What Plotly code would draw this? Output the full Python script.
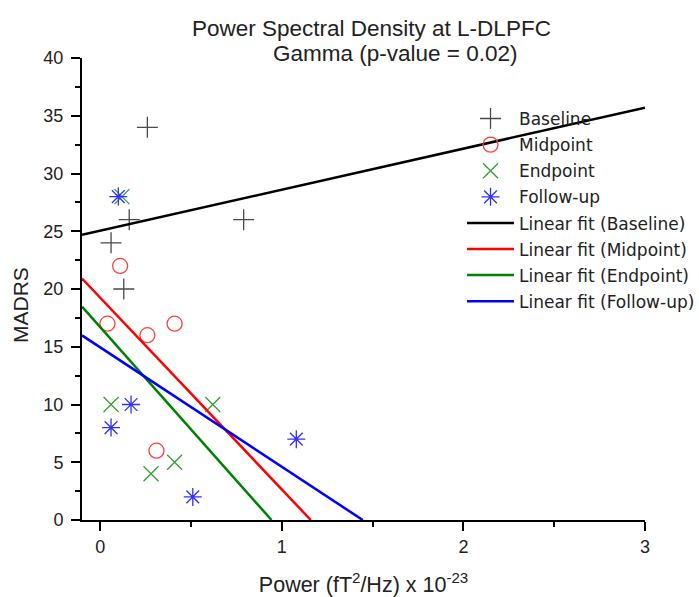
import plotly.graph_objects as go

# ---- data ----
baseline_x = [0.26, 0.16, 0.79, 0.06, 0.13]
baseline_y = [34, 26, 26, 24, 20]
midpoint_x = [0.11, 0.04, 0.26, 0.41, 0.31]
midpoint_y = [22, 17, 16, 17, 6]
endpoint_x = [0.12, 0.06, 0.62, 0.41, 0.28]
endpoint_y = [28, 10, 10, 5, 4]
followup_x = [0.10, 0.17, 0.06, 1.08, 0.51]
followup_y = [28, 10, 8, 7, 2]

# linear fits (intercept, slope)
fit_names = ["Baseline", "Midpoint", "Endpoint", "Follow-up"]
fit_intercept = [25.05, 19.25, 16.7, 14.95]
fit_slope = [3.55, -16.6, -17.7, -10.34]

x_range = [-0.1, 3]
y_range = [0, 40]
x_ticks = [0, 1, 2, 3]
y_ticks = [0, 5, 10, 15, 20, 25, 30, 35, 40]

title_line1 = "Power Spectral Density at L-DLPFC"
title_line2 = "Gamma (p-value = 0.02)"

FONT = "Liberation Sans, Arial"

fig = go.Figure()

scatter_specs = [
    ("Baseline", baseline_x, baseline_y, "cross-thin", "#4a4a4a"),
    ("Midpoint", midpoint_x, midpoint_y, "circle-open", "#ff4040"),
    ("Endpoint", endpoint_x, endpoint_y, "x-thin", "#33a033"),
    ("Follow-up", followup_x, followup_y, "asterisk-open", "#3030ff"),
]
for i, (name, xs, ys, sym, col) in enumerate(scatter_specs):
    fig.add_trace(go.Scatter(
        x=xs, y=ys, mode="markers", name=name, legendgroup=f"g{i}",
        marker=dict(symbol=sym, size=15, color=col, line=dict(color=col, width=1.3)),
    ))

line_colors = ["#000000", "#ff0000", "#008000", "#0000ff"]
for i, (nm, b, m, col) in enumerate(zip(fit_names, fit_intercept, fit_slope, line_colors)):
    x0 = x_range[0]
    x1 = -b / m if m < 0 else x_range[1]
    fig.add_trace(go.Scatter(
        x=[x0, x1], y=[b + m * x0, b + m * x1], mode="lines",
        name=f"Linear fit ({nm})", legendgroup=f"l{i}",
        line=dict(color=col, width=2.5),
    ))

axis_common = dict(
    showline=True, linecolor="#000000", linewidth=2,
    ticks="outside", ticklen=9, tickwidth=2, tickcolor="#000000",
    showgrid=False, zeroline=False, mirror=False, automargin=False,
    tickfont=dict(family=FONT, size=18, color="#222222"),
)

fig.update_layout(
    width=699, height=597,
    margin=dict(l=82, r=54, t=58, b=77, autoexpand=False),
    paper_bgcolor="white", plot_bgcolor="white",
    xaxis=dict(
        range=x_range, tickvals=x_ticks,
        minor=dict(tickvals=[0.5, 1.5, 2.5], ticks="outside", ticklen=5, tickwidth=2, tickcolor="#000000"),
        title=dict(text="Power (fT<sup>2</sup>/Hz) x 10<sup>-23</sup>", standoff=22,
                   font=dict(family=FONT, size=21.5, color="#222222")),
        ticklabelstandoff=0,
        **axis_common,
    ),
    yaxis=dict(
        range=y_range, tickvals=y_ticks,
        minor=dict(dtick=2.5, ticks="outside", ticklen=5, tickwidth=2, tickcolor="#000000"),
        ticklabelstandoff=4,
        **axis_common,
    ),
    legend=dict(
        x=0.675, y=0.907, xanchor="left", yanchor="top",
        bgcolor="rgba(0,0,0,0)", borderwidth=0,
        font=dict(family="DejaVu Sans, Verdana", size=17, color="#222222"),
        traceorder="grouped", tracegroupgap=1, itemwidth=47,
    ),
    showlegend=True,
    annotations=[
        dict(text=title_line1, xref="paper", yref="paper", x=0.515, y=1, yshift=30,
             xanchor="center", yanchor="middle", showarrow=False,
             font=dict(family=FONT, size=22.5, color="#222222")),
        dict(text=title_line2, xref="paper", yref="paper", x=0.556, y=1, yshift=5,
             xanchor="center", yanchor="middle", showarrow=False,
             font=dict(family=FONT, size=22.5, color="#222222")),
        dict(text="MADRS", xref="paper", yref="paper", x=0, xshift=-62, y=0.5, yshift=-16,
             xanchor="center", yanchor="middle", textangle=-90, showarrow=False,
             font=dict(family=FONT, size=21, color="#222222")),
    ],
)

fig.write_html("out.html")
